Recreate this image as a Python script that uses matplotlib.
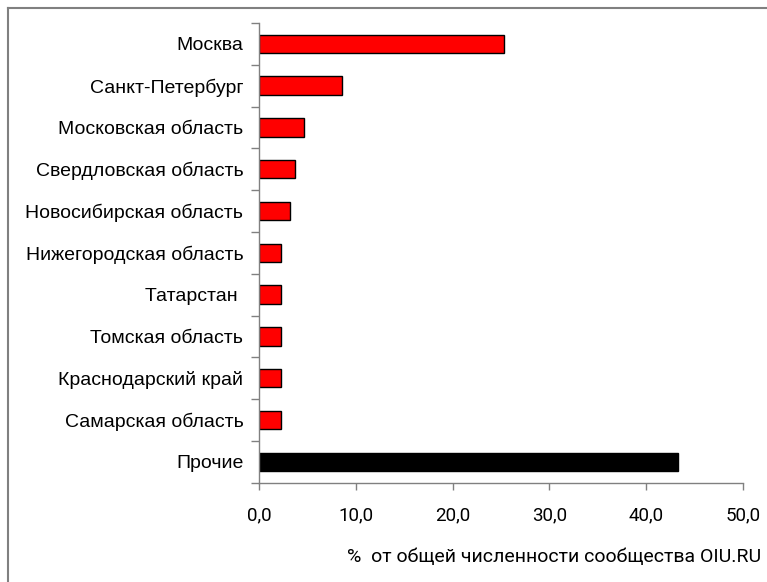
import numpy as np
import matplotlib.pyplot as plt
from matplotlib.ticker import FuncFormatter
from matplotlib.lines import Line2D

# --- data ---
regions = ['Москва', 'Санкт-Петербург', 'Московская область', 'Свердловская область',
           'Новосибирская область', 'Нижегородская область', 'Татарстан ',
           'Томская область', 'Краснодарский край', 'Самарская область', 'Прочие']
share = [25.3, 8.6, 4.6, 3.7, 3.2, 2.3, 2.3, 2.3, 2.2, 2.2, 43.3]
colors = ['#ff0000'] * 10 + ['#000000']

fig = plt.figure(figsize=(7.67, 5.82), dpi=100)
ax = fig.add_axes([0.338, 0.1706, 0.6307, 0.7899])

y = np.arange(len(regions))
ax.barh(y, share, height=0.44, color=colors, edgecolor='black', linewidth=1.0)

ax.set_xlim(0, 50)
ax.set_ylim(len(regions) - 0.5, -0.5)

# x axis: comma decimals
ax.set_xticks(np.arange(0, 51, 10))
ax.xaxis.set_major_formatter(FuncFormatter(lambda v, p: f'{v:.1f}'.replace('.', ',')))
ax.tick_params(axis='x', direction='out', length=5, width=1, color='#808080',
               pad=12, labelsize=13.5)
for t in ax.get_xticklabels():
    t.set_fontfamily('Roboto')

# y axis: ticks between categories, labels centred on bars
ax.set_yticks(np.arange(len(regions) + 1) - 0.5)
ax.set_yticklabels([])
ax.tick_params(axis='y', which='major', direction='out', length=6, width=1, color='#808080')
ax.set_yticks(y, minor=True)
ax.set_yticklabels(regions, minor=True, fontsize=14, family='Liberation Sans')
ax.tick_params(axis='y', which='minor', length=0, pad=11.5)

for side in ['top', 'right']:
    ax.spines[side].set_visible(False)
for side in ['left', 'bottom']:
    ax.spines[side].set_color('#808080')
    ax.spines[side].set_linewidth(1)

fig.text(0.992, 0.043, '%  от общей численности сообщества OIU.RU', ha='right', va='center',
         fontsize=14, family='Roboto')

# chart-area frame (top and left edges only visible in the image)
fig.add_artist(Line2D([0.0105, 0.0105], [0, 0.987], color='#808080', lw=1.5))
fig.add_artist(Line2D([0.0105, 1.0], [0.987, 0.987], color='#808080', lw=1.5))

fig.savefig('out.png', dpi=100)
